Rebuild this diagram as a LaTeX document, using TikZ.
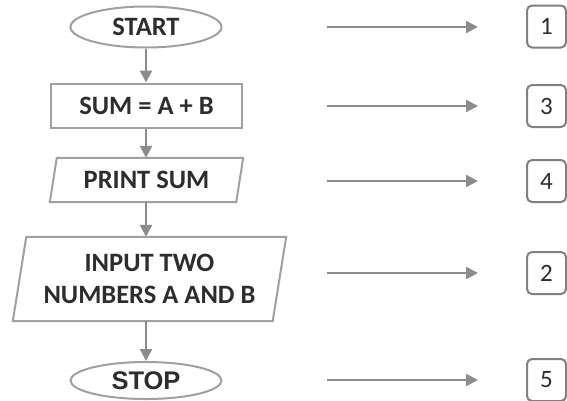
\documentclass[tikz,border=0pt]{standalone}
\usepackage{fontspec}
\setmainfont{Carlito}
\newfontfamily\arialfont{Liberation Sans}
\usetikzlibrary{shapes.geometric,arrows.meta,calc}
\definecolor{shapeline}{RGB}{160,160,160}
\definecolor{arrowgray}{RGB}{140,140,140}
\definecolor{boxline}{RGB}{128,128,128}
\definecolor{txt}{RGB}{45,45,45}
\tikzset{
  flowtext/.style={font=\fontsize{26.5}{32.5}\selectfont\bfseries, text=txt, align=center, inner sep=0pt},
  term/.style={ellipse, draw=shapeline, line width=2pt, minimum width=151pt, minimum height=41pt, flowtext},
  procbox/.style={rectangle, draw=shapeline, line width=2pt, minimum width=191pt, minimum height=44pt, flowtext},
  ioframe/.style={rectangle, draw=none, flowtext},
  iopath/.style={draw=shapeline, line width=2pt, line join=miter},
  numbox/.style={rectangle, rounded corners=5pt, draw=boxline, line width=2pt, minimum width=39pt, minimum height=42pt, font=\fontsize{25}{30}\selectfont, text=txt, inner sep=0pt},
  flowarrow/.style={draw=arrowgray, line width=2.5pt, -{Triangle[length=12pt,width=12pt]}},
}
\begin{document}
\begin{tikzpicture}[x=1pt,y=-1pt]
\useasboundingbox (0,0) rectangle (567,400);
% flowchart
\node[term] (start) at (146,27) {\raisebox{-1.5pt}{START}};
\node[procbox] (sum) at (146.5,105.5) {SUM = A + B};
\node[ioframe, minimum width=193pt, minimum height=44pt] (print) at (146.5,180) {PRINT SUM};
\draw[iopath] ($(print.north west)+(7,0)$) -- (print.north east) -- ($(print.south east)+(-7,0)$) -- (print.south west) -- cycle;
\node[ioframe, minimum width=273pt, minimum height=84pt] (input) at (149.5,279) {INPUT TWO\\NUMBERS A AND B};
\draw[iopath] ($(input.north west)+(13.5,0)$) -- (input.north east) -- ($(input.south east)+(-13.5,0)$) -- (input.south west) -- cycle;
\node[term, minimum height=37pt, font=\arialfont\fontsize{25.5}{30}\selectfont\bfseries] (stop) at (146,380.5) {STOP};
% vertical connectors
\draw[flowarrow] (start.south) -- (sum.north -| start.south);
\draw[flowarrow] (sum.south -| start.south) -- (print.north -| start.south);
\draw[flowarrow] (print.south -| start.south) -- (input.north -| start.south);
\draw[flowarrow] (input.south -| start.south) -- (stop.north);
% right side arrows
\foreach \n/\y in {1/27,3/106,4/181,2/273,5/380}{
  \coordinate (as\n) at (327,\y);
  \coordinate (ae\n) at (478,\y);
  \draw[flowarrow] (as\n) -- (ae\n);
}
\node[numbox] (n1) at (546.5,26.5) {1};
\node[numbox] (n3) at (546.5,106) {3};
\node[numbox] (n4) at (546.5,181) {4};
\node[numbox] (n2) at (546.5,273) {2};
\node[numbox] (n5) at (546.5,380) {5};
\end{tikzpicture}
\end{document}
